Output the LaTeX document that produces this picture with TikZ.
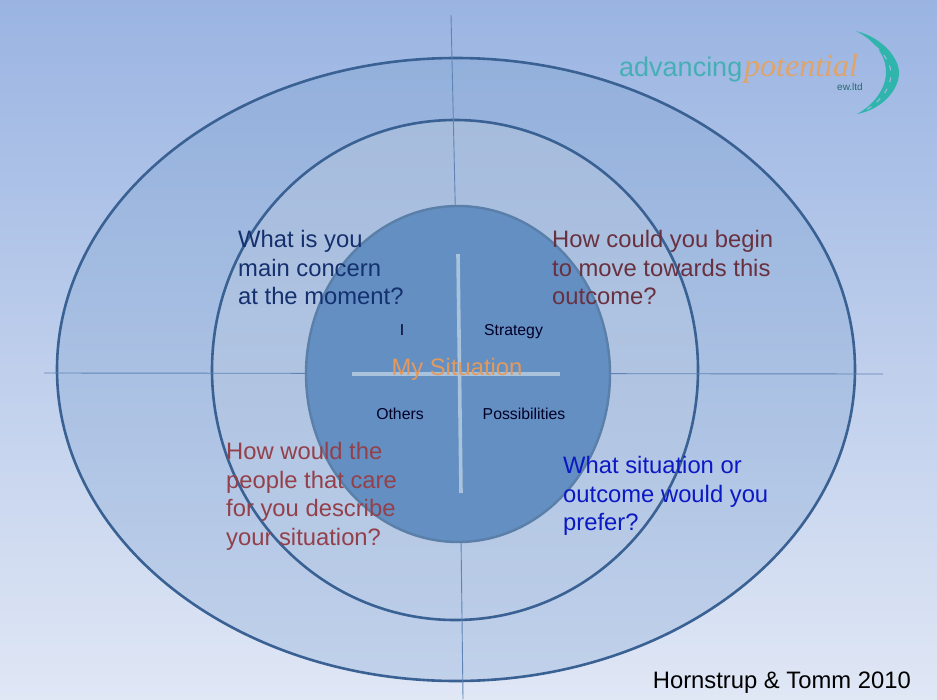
\documentclass[tikz,border=0pt]{standalone}
\usepackage{fontspec}
\setmainfont{Liberation Sans}
\newfontfamily\logoserif{Liberation Serif}
\usetikzlibrary{shadings}
\definecolor{bgtop}{HTML}{9AB4E2}
\definecolor{bgbot}{HTML}{E0E7F5}
\definecolor{ringline}{HTML}{3A6193}
\definecolor{outertop}{HTML}{93B0DC}
\definecolor{outerbot}{HTML}{C1D1EA}
\definecolor{midtop}{HTML}{A6BCDD}
\definecolor{midbot}{HTML}{BACCE7}
\definecolor{corefill}{HTML}{648FC2}
\definecolor{coreline}{HTML}{5A7FA8}
\definecolor{crosscol}{HTML}{A9C3DC}
\definecolor{thincol}{HTML}{5F84B5}
\definecolor{qnavy}{HTML}{14306E}
\definecolor{qmaroon}{HTML}{69303F}
\definecolor{qred}{HTML}{93404A}
\definecolor{qblue}{HTML}{0B19C4}
\definecolor{sitcol}{HTML}{E39A5C}
\definecolor{logoteal}{HTML}{45AFB5}
\definecolor{logocres}{HTML}{2FB5AC}
\definecolor{logoorange}{HTML}{E0A468}
\definecolor{logobg}{HTML}{A0B8E2}
\tikzset{
  ring/.style={draw=ringline,line width=2.6pt},
  thinaxis/.style={draw=thincol,line width=0.9pt},
  crossbar/.style={draw=crosscol,line width=3.6pt},
  question/.style={anchor=north west,align=left,inner sep=0pt,font=\fontsize{23.8}{28.7}\selectfont},
  quad/.style={inner sep=0pt,text=black!85!blue,font=\fontsize{15.8}{18}\selectfont},
}
\begin{document}
\begin{tikzpicture}[x=1pt,y=-1pt]
\useasboundingbox (0,0) rectangle (937,699);
\shade[top color=bgtop,bottom color=bgbot] (0,0) rectangle (937,699);
% rings
\path[ring,top color=outertop,bottom color=outerbot] (456,369.5) ellipse [x radius=399,y radius=311.5];
\path[ring,top color=midtop,bottom color=midbot] (455,370) ellipse [x radius=243,y radius=250];
% axes
\coordinate (ntop) at (451,15);
\coordinate (nmid) at (459,374);
\coordinate (nbot) at (463,699);
\coordinate (wleft) at (44,373);
\coordinate (eright) at (883,374);
\draw[thinaxis] (ntop) -- (nmid) -- (nbot);
\draw[thinaxis] (wleft) -- (eright);
% core
\path[draw=coreline,line width=2.4pt,fill=corefill] (458,374) ellipse [x radius=152,y radius=168];
\coordinate (crossN) at (458,254);
\coordinate (crossS) at (461,493);
\coordinate (crossW) at (352,374);
\coordinate (crossE) at (560,374);
\draw[crossbar] (crossN) -- (crossS);
\draw[crossbar] (crossW) -- (crossE);
% labels
\node[inner sep=0pt,text=sitcol,font=\fontsize{23.8}{26}\selectfont] (sit) at (457,369) {My Situation};
\node[quad] (qI) at (402,330) {I};
\node[quad] (qS) at (513.5,332) {Strategy};
\node[quad] (qO) at (400,413.5) {Others};
\node[quad] (qP) at (524,413.5) {Possibilities};
\node[question,text=qnavy] (q1) at (238,230) {What is you\\main concern\\at the moment?};
\node[question,text=qmaroon] (q2) at (552,230) {How could you begin\\to move towards this\\outcome?};
\node[question,text=qred] (q3) at (226,442) {How would the\\people that care\\for you describe\\your situation?};
\node[question,text=qblue] (q4) at (563,456) {What situation or\\outcome would you\\prefer?};
\node[anchor=east,inner sep=0pt,text=black,font=\fontsize{23.8}{26}\selectfont] (credit) at (911,683) {Hornstrup \& Tomm 2010};
% logo
\node[anchor=base west,inner sep=0pt,text=logoteal,font=\fontsize{27}{28}\selectfont] (logoA) at (619,76) {advancing};
\node[anchor=base west,inner sep=0pt,text=logoorange,font=\logoserif\itshape\fontsize{32}{32}\selectfont] (logoP) at (744,76) {potential};
\node[anchor=base east,inner sep=0pt,text=logoteal!60!black,font=\fontsize{10}{11}\selectfont] (logoL) at (863,90) {ew.ltd};
\fill[logocres] (856,31) .. controls (884,38) and (900,60) .. (899,74) .. controls (898,92) and (880,110) .. (857,114)
  .. controls (872,106) and (886,90) .. (886,72) .. controls (886,55) and (874,40) .. (856,31) -- cycle;
\draw[logobg,line width=1.1pt,dash pattern=on 5pt off 7pt] (866,39) .. controls (882,50) and (891,62) .. (891,74) .. controls (891,88) and (880,102) .. (866,110);
\end{tikzpicture}
\end{document}
